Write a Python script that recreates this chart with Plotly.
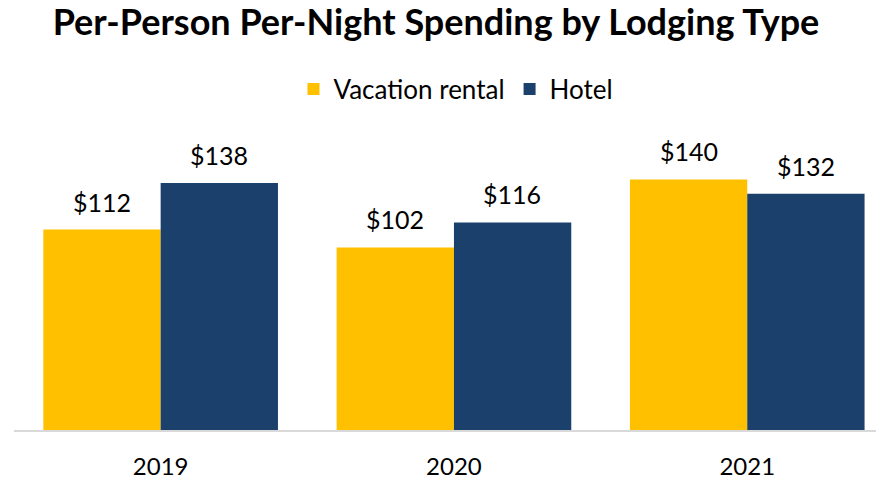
import plotly.graph_objects as go

years = ["2019", "2020", "2021"]
vacation_rental = [112, 102, 140]
hotel = [138, 116, 132]
series_names = ["Vacation rental", "Hotel"]
colors = ["#FFC000", "#1A406B"]

FONT = "Lato, sans-serif"

fig = go.Figure()
for name, values, color in zip(series_names, [vacation_rental, hotel], colors):
    fig.add_trace(
        go.Bar(
            x=years,
            y=values,
            name=name,
            marker={"color": color, "line": {"width": 0}},
            hoverinfo="skip",
        )
    )

# value labels sit a bit higher above the bars than plotly's outside text;
# on a category axis annotations are placed by category index
for values, shift in [(vacation_rental, -58.5), (hotel, 58.5)]:
    for index, value in enumerate(values):
        fig.add_annotation(
            x=index,
            y=value,
            xref="x",
            yref="y",
            text=f"${value}",
            showarrow=False,
            xshift=shift,
            yshift=11,
            yanchor="bottom",
            font={"size": 25, "color": "#000000", "family": FONT},
        )

fig.update_xaxes(
    type="category",
    range=[-0.5, 2.439],
    showline=True,
    linecolor="#d9d9d9",
    linewidth=2,
    showgrid=False,
    ticks="",
    automargin=False,
    ticklabelstandoff=14,
    tickfont={"size": 24, "color": "#000000", "family": FONT},
)
fig.update_yaxes(range=[0, 178.8], visible=False, showgrid=False, automargin=False)

fig.update_layout(
    width=876,
    height=479,
    barmode="group",
    bargap=0.2,
    bargroupgap=0,
    plot_bgcolor="#ffffff",
    paper_bgcolor="#ffffff",
    margin={"l": 14, "r": 0, "t": 110, "b": 49, "autoexpand": False},
    title={
        "text": "<b>Per-Person Per-Night Spending by Lodging Type</b>",
        "x": 436 / 876,
        "xanchor": "center",
        "y": 1 - 22 / 479,
        "yanchor": "middle",
        "font": {"size": 36, "color": "#000000", "family": FONT},
    },
    legend={
        "orientation": "h",
        "x": 456 / 876,
        "xanchor": "center",
        "xref": "container",
        "y": 1 - 89 / 479,
        "yref": "container",
        "yanchor": "middle",
        "font": {"size": 26, "color": "#000000", "family": FONT},
        "itemwidth": 30,
        "traceorder": "normal",
    },
    showlegend=True,
)

# drop the browser's default body margin so the figure sits at the page corner
fig.write_html(
    "out.html",
    config={"displayModeBar": False},
    post_script="document.body.style.margin = '0';",
)
